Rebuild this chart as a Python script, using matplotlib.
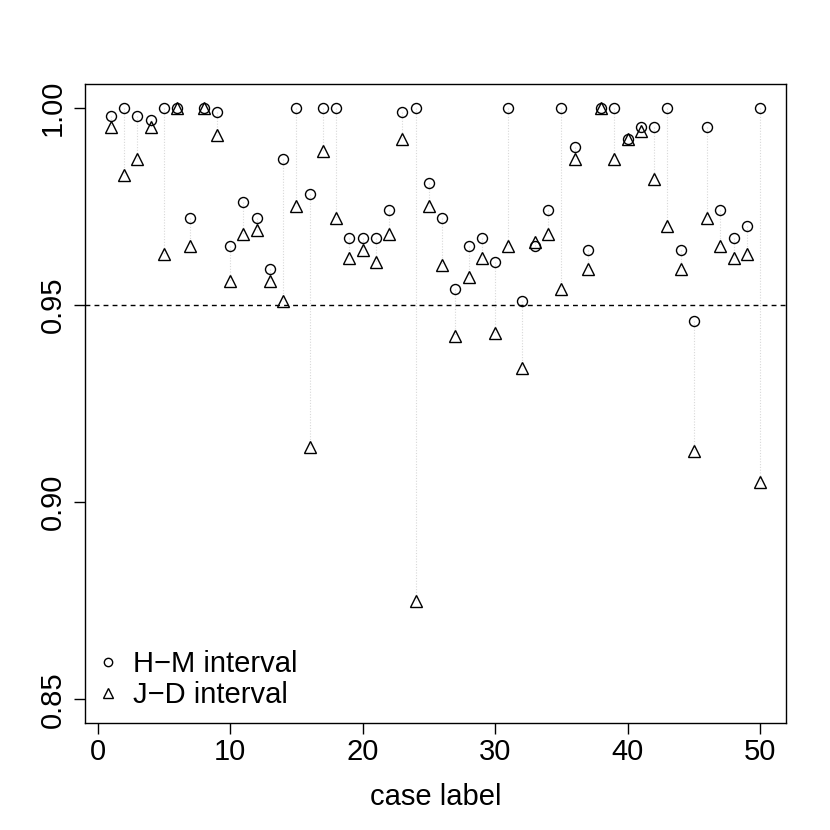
import matplotlib
matplotlib.use("Agg")
import matplotlib.pyplot as plt
from matplotlib.lines import Line2D

plt.rcParams['font.family'] = ['Liberation Sans', 'DejaVu Sans']

case = list(range(1, 51))
hm = [0.998, 1.000, 0.998, 0.997, 1.000, 1.000, 0.972, 1.000, 0.999, 0.965,
      0.976, 0.972, 0.959, 0.987, 1.000, 0.978, 1.000, 1.000, 0.967, 0.967,
      0.967, 0.974, 0.999, 1.000, 0.981, 0.972, 0.954, 0.965, 0.967, 0.961,
      1.000, 0.951, 0.965, 0.974, 1.000, 0.990, 0.964, 1.000, 1.000, 0.992,
      0.995, 0.995, 1.000, 0.964, 0.946, 0.995, 0.974, 0.967, 0.970, 1.000]
jd = [0.995, 0.983, 0.987, 0.995, 0.963, 1.000, 0.965, 1.000, 0.993, 0.956,
      0.968, 0.969, 0.956, 0.951, 0.975, 0.914, 0.989, 0.972, 0.962, 0.964,
      0.961, 0.968, 0.992, 0.875, 0.975, 0.960, 0.942, 0.957, 0.962, 0.943,
      0.965, 0.934, 0.966, 0.968, 0.954, 0.987, 0.959, 1.000, 0.987, 0.992,
      0.994, 0.982, 0.970, 0.959, 0.913, 0.972, 0.965, 0.962, 0.963, 0.905]
xticks = [0, 10, 20, 30, 40, 50]
yticks = [0.85, 0.90, 0.95, 1.00]
ytick_labels = ["0.85", "0.90", "0.95", "1.00"]

fig = plt.figure(figsize=(8.3, 8.3), dpi=100)
ax = fig.add_axes([85/830, 1-723/830, (786-85)/830, (723-84)/830])

for x, a, b in zip(case, hm, jd):
    ax.plot([x, x], [a, b], color='#d8d8d8', lw=0.8, ls=(0, (1, 1.5)), zorder=1)

ax.axhline(0.95, color='black', lw=1.0, ls=(0, (3.5, 3)), zorder=2)
ax.plot(case, hm, ls='none', marker='o', ms=7.2, mfc='none', mec='black', mew=1.0, zorder=3)
ax.plot(case, jd, ls='none', marker='^', ms=8.8, mfc='none', mec='black', mew=1.0, zorder=3)

ax.set_xlim(1 - 49*0.04, 50 + 49*0.04)
ax.set_ylim(0.85 - 0.15*0.04, 1.0 + 0.15*0.04)
ax.set_xticks(xticks)
ax.set_xticklabels([str(t) for t in xticks], fontsize=21)
ax.set_yticks(yticks)
ax.set_yticklabels(ytick_labels, fontsize=21, rotation=90, va='center')
ax.tick_params(direction='out', length=8, width=1.0, pad=3)
ax.tick_params(axis='y', pad=5)
for s in ax.spines.values():
    s.set_linewidth(1.0)
ax.set_xlabel("case label", fontsize=21, labelpad=12)

handles = [Line2D([], [], ls='none', marker='o', ms=6, mfc='none', mec='black', mew=1.0),
           Line2D([], [], ls='none', marker='^', ms=7, mfc='none', mec='black', mew=1.0)]
ax.legend(handles, ["H\u2212M interval", "J\u2212D interval"], loc='lower left',
          frameon=False, fontsize=21, handlelength=0.7, handletextpad=0.5,
          labelspacing=0.1, borderaxespad=0.3, bbox_to_anchor=(-0.011, -0.01))

fig.savefig("out.png", dpi=100)
